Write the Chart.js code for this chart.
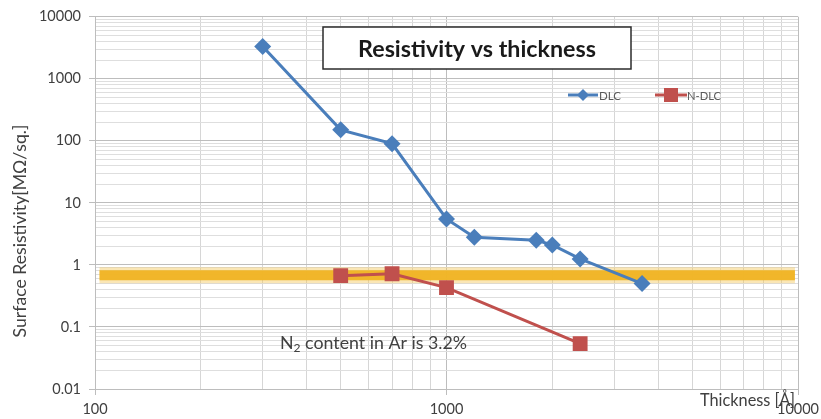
<!DOCTYPE html>
<html>
<head>
<meta charset="utf-8">
<script src="https://cdn.jsdelivr.net/npm/chart.js@4/dist/chart.umd.min.js"></script>
<style>
html,body{margin:0;padding:0;background:#fff;}
#wrap{width:821px;height:419px;}
</style>
</head>
<body>
<div id="wrap"><canvas id="c" width="821" height="419"></canvas></div>
<script>
// ---- data ----
const thicknessDLC = [300, 500, 700, 1000, 1200, 1800, 2000, 2400, 3600];
const resistDLC    = [3300, 150, 90, 5.5, 2.8, 2.5, 2.1, 1.25, 0.5];
const thicknessNDLC = [500, 700, 1000, 2400];
const resistNDLC    = [0.67, 0.72, 0.43, 0.054];
const bandX = [103, 9800];
const bandY = [0.68, 0.68];
const xDecades = [100, 1000, 10000];
const yDecades = [0.01, 0.1, 1, 10, 100, 1000, 10000];
const xTickLabels = ['100', '1000', '10000'];
const yTickLabels = ['0.01', '0.1', '1', '10', '100', '1000', '10000'];
const seriesNames = ['DLC', 'N-DLC'];
const titleText = 'Resistivity vs thickness';
const yTitle = 'Surface Resistivity[MΩ/sq.]';
const xTitle = 'Thickness [Å]';
const noteParts = ['N', '2', ' content in Ar is 3.2%'];

const BLUE = '#4a7ebb', RED = '#c0504d';
const FAM = 'Lato, "Open Sans", sans-serif';

function gridValues(decades) {
  const out = [];
  for (let i = 0; i < decades.length; i++) {
    out.push(decades[i]);
    if (i < decades.length - 1) {
      for (let m = 2; m <= 9; m++) out.push(+(decades[i] * m).toPrecision(6));
    }
  }
  return out;
}
const xGrid = gridValues(xDecades);
const yGrid = gridValues(yDecades);

function isMajor(list, v) { return list.some(d => Math.abs(d - v) / d < 1e-6); }
function labelFor(list, labels, v) {
  const i = list.findIndex(d => Math.abs(d - v) / d < 1e-6);
  return i >= 0 ? labels[i] : '';
}
// choose a font size so that the text spans the wanted width
function fitFont(ctx, text, width, weight) {
  ctx.font = (weight || '') + ' 20px ' + FAM;
  const w = ctx.measureText(text).width;
  const size = 20 * width / w;
  ctx.font = (weight || '') + ' ' + size.toFixed(2) + 'px ' + FAM;
  return size;
}

Chart.defaults.font.family = FAM;
Chart.defaults.color = '#404040';

const decorations = {
  id: 'decorations',
  afterDraw(chart) {
    const ctx = chart.ctx;
    ctx.save();
    // Title box
    ctx.fillStyle = '#fff';
    ctx.fillRect(323, 27, 308, 42);
    ctx.strokeStyle = '#2b2b2b';
    ctx.lineWidth = 1.5;
    ctx.strokeRect(323, 27, 308, 42);
    ctx.fillStyle = '#1a1a1a';
    fitFont(ctx, titleText, 238, 'bold');
    ctx.textAlign = 'center';
    ctx.textBaseline = 'middle';
    ctx.fillText(titleText, 477, 49);

    // Legend
    const ly = 95;
    ctx.lineWidth = 3;
    ctx.strokeStyle = BLUE;
    ctx.beginPath(); ctx.moveTo(568, ly); ctx.lineTo(598, ly); ctx.stroke();
    ctx.fillStyle = BLUE;
    ctx.beginPath();
    ctx.moveTo(583, ly - 6); ctx.lineTo(589, ly); ctx.lineTo(583, ly + 6); ctx.lineTo(577, ly);
    ctx.closePath(); ctx.fill();
    ctx.strokeStyle = RED;
    ctx.beginPath(); ctx.moveTo(655, ly); ctx.lineTo(687, ly); ctx.stroke();
    ctx.fillStyle = RED;
    ctx.fillRect(664, ly - 7, 14, 14);
    ctx.fillStyle = '#595959';
    ctx.textAlign = 'left';
    fitFont(ctx, seriesNames[0], 22);
    ctx.fillText(seriesNames[0], 599, ly + 1);
    fitFont(ctx, seriesNames[1], 34);
    ctx.fillText(seriesNames[1], 687, ly + 1);

    // Note text
    ctx.fillStyle = '#404040';
    ctx.textBaseline = 'alphabetic';
    const full = noteParts[0] + noteParts[2];
    const size = fitFont(ctx, full, 180);
    let x = 280;
    const by = 349;
    ctx.fillText(noteParts[0], x, by);
    x += ctx.measureText(noteParts[0]).width;
    ctx.font = (size * 0.68).toFixed(2) + 'px ' + FAM;
    ctx.fillText(noteParts[1], x, by + 3);
    x += ctx.measureText(noteParts[1]).width;
    ctx.font = size.toFixed(2) + 'px ' + FAM;
    ctx.fillText(noteParts[2], x, by);

    // Y axis title
    ctx.save();
    ctx.translate(20, 231);
    ctx.rotate(-Math.PI / 2);
    ctx.textAlign = 'center';
    ctx.textBaseline = 'middle';
    fitFont(ctx, yTitle, 213);
    ctx.fillStyle = '#404040';
    ctx.fillText(yTitle, 0, 0);
    ctx.restore();

    // X axis title
    ctx.textAlign = 'left';
    ctx.textBaseline = 'middle';
    fitFont(ctx, xTitle, 95);
    ctx.fillStyle = '#404040';
    ctx.fillText(xTitle, 700, 401);
    ctx.restore();
  }
};

new Chart(document.getElementById('c'), {
  type: 'line',
  data: {
    datasets: [
      {
        label: seriesNames[0],
        data: thicknessDLC.map((t, i) => ({ x: t, y: resistDLC[i] })),
        borderColor: BLUE, backgroundColor: BLUE, borderWidth: 3,
        pointStyle: 'rectRot', pointRadius: 8.5, pointBorderWidth: 0,
        tension: 0
      },
      {
        label: seriesNames[1],
        data: thicknessNDLC.map((t, i) => ({ x: t, y: resistNDLC[i] })),
        borderColor: RED, backgroundColor: RED, borderWidth: 3,
        pointStyle: 'rect', pointRadius: 10.5, pointBorderWidth: 0,
        tension: 0
      },
      {
        label: 'band-core',
        data: bandX.map((t, i) => ({ x: t, y: bandY[i] })),
        borderColor: 'rgba(240,180,35,0.95)', borderWidth: 10,
        pointRadius: 0, borderCapStyle: 'butt'
      },
      {
        label: 'band-glow',
        data: bandX.map((t, i) => ({ x: t, y: bandY[i] })),
        borderColor: 'rgba(245,200,90,0.45)', borderWidth: 16,
        pointRadius: 0, borderCapStyle: 'butt'
      }
    ]
  },
  options: {
    responsive: false,
    animation: false,
    layout: { padding: { top: 15, right: 23, left: 0, bottom: 0 } },
    plugins: { legend: { display: false }, tooltip: { enabled: false }, title: { display: false } },
    scales: {
      x: {
        type: 'logarithmic', min: 100, max: 10000,
        afterBuildTicks: s => { s.ticks = xGrid.map(v => ({ value: v, major: isMajor(xDecades, v) })); },
        afterFit: s => { s.height = 30; s.paddingRight = 0; s.paddingLeft = 0; },
        ticks: {
          autoSkip: false, maxRotation: 0, padding: 6,
          font: { size: 14.5 }, color: '#404040',
          callback: v => labelFor(xDecades, xTickLabels, v)
        },
        grid: {
          color: c => (c.tick && c.tick.major) ? '#bdbdbd' : '#d6d6d6',
          tickColor: c => (c.tick && c.tick.major) ? '#bdbdbd' : 'rgba(0,0,0,0)',
          tickLength: 6, lineWidth: 1
        },
        border: { color: '#bdbdbd' }
      },
      y: {
        type: 'logarithmic', min: 0.01, max: 10000,
        afterBuildTicks: s => { s.ticks = yGrid.map(v => ({ value: v, major: isMajor(yDecades, v) })); },
        afterFit: s => { s.width = 95; },
        ticks: {
          autoSkip: false, padding: 8,
          font: { size: 14.5 }, color: '#404040',
          callback: v => labelFor(yDecades, yTickLabels, v)
        },
        grid: {
          color: c => (c.tick && c.tick.major) ? '#bdbdbd' : '#dedede',
          tickColor: c => (c.tick && c.tick.major) ? '#bdbdbd' : 'rgba(0,0,0,0)',
          tickLength: 6, lineWidth: 1
        },
        border: { color: '#bdbdbd' }
      }
    }
  },
  plugins: [decorations]
});
</script>
</body>
</html>
